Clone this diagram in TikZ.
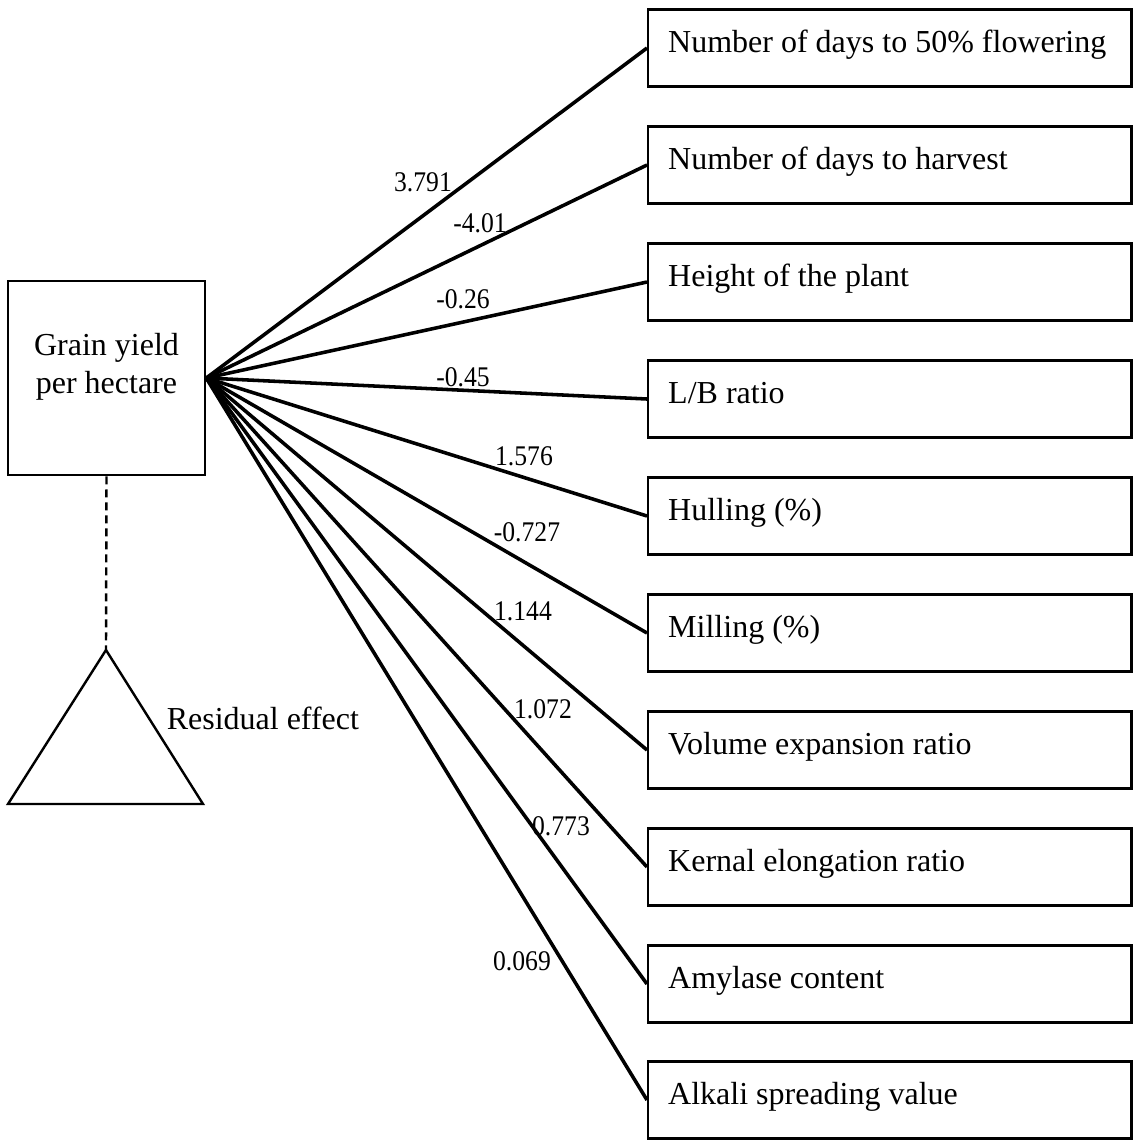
\documentclass[tikz,border=0pt]{standalone}
\usepackage{fontspec}
\setmainfont{Liberation Serif}
\newfontfamily\coeffont[FakeStretch=0.9]{Liberation Serif}
\usetikzlibrary{positioning}

\tikzset{
  factor/.style={draw, line width=.15ex, anchor=west, minimum height=0.77cm,
    inner xsep=0.2cm, text height=0.7em, text depth=0.45em,
    font=\fontsize{9.1}{10.8}\selectfont},
  coef/.style={inner sep=0pt, font=\coeffont\fontsize{8.1}{9.5}\selectfont},
}

\begin{document}
\begin{tikzpicture}[x=0.01cm, y=-0.01cm, line width=.22ex]
\useasboundingbox (0,0) rectangle (1135,1141);
%\draw[step=50,gray,very thin] (0,0) grid (1135,1141);
\node[draw, line width=.15ex, minimum width=1.97cm, minimum height=1.94cm,
  font=\fontsize{9.1}{10.8}\selectfont] (yield) at (106.5,378)
  {\raisebox{0.03cm}[0pt][0pt]{\begin{tabular}{@{}c@{}}Grain yield\\per hectare\end{tabular}}};%%
\foreach \txt/\yy/\val/\lx/\ly [count=\i] in {
  {Number of days to 50\% flowering}/48/3.791/423/182,
  {Number of days to harvest}/165/-4.01/480/223,
  {Height of the plant}/282/-0.26/463/299,
  {L/B ratio}/399/-0.45/463/377,
  {Hulling (\%)}/516/1.576/524/456,
  {Milling (\%)}/633/-0.727/527/532,
  {Volume expansion ratio}/750/1.144/523/611,
  {Kernal elongation ratio}/867/1.072/543/709,
  {Amylase content}/984/0.773/561/826,
  {Alkali spreading value}/1100/0.069/522/961}
{
  \node[factor] (f\i) at (647,\yy) {\makebox[4.43cm][l]{\txt}};%%
  \draw (yield.east) -- (f\i.west);%%
  \node[coef] (c\i) at (\lx,\ly) {\val};%%
}
% residual
\coordinate (res) at (106,650);
\draw[line width=.15ex, dash pattern=on 0.08cm off 0.05cm] (yield.south) -- (res);%%
\draw[line width=.15ex] (res) -- (203,804) -- (8,804) -- cycle;%%
\node[anchor=west, inner sep=0pt, font=\fontsize{9.1}{10.8}\selectfont] (resid) at (165,718) {Residual effect};%%
\end{tikzpicture}
\end{document}
